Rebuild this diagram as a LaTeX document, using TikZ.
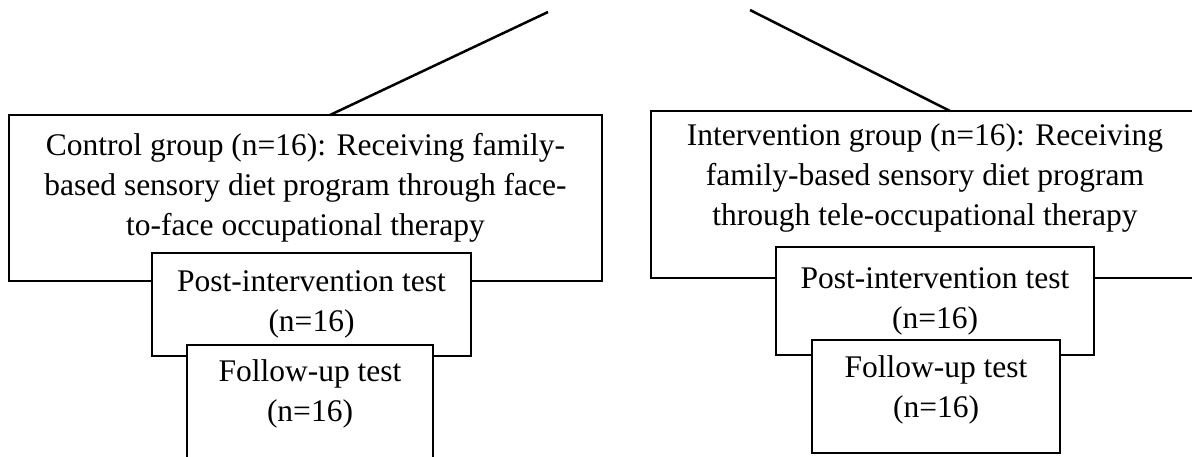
\documentclass[tikz,border=0pt]{standalone}
\usepackage{fontspec}
\setmainfont{Liberation Serif}
\usepackage{tikz}
\usetikzlibrary{positioning}
\newcommand{\diagfont}{\fontsize{31.5}{40}\selectfont}

\begin{document}
\begin{tikzpicture}[
    x=1pt, y=-1pt,
    box/.style={rectangle, draw, line width=2.5pt, fill=white, inner sep=0pt, align=center, font=\diagfont},
    boxtext/.style={inner sep=0pt, align=center, font=\diagfont},
    link/.style={line width=2.5pt}
]
\useasboundingbox (0,0) rectangle (1192,456);

% Group boxes
\node[box, minimum width=593pt, minimum height=166pt] (ctrl) at (305.5,198) {};
\node[boxtext, below=19pt of ctrl.north] (ctrltext) {Control group (n=16): Receiving family-\\based sensory diet program through face-\\to-face occupational therapy};
\node[box, minimum width=548pt, minimum height=167pt] (intv) at (925,194.5) {};
\node[boxtext, below=14pt of intv.north] (intvtext) {Intervention group (n=16): Receiving\\family-based sensory diet program\\through tele-occupational therapy};

% Lines from above
\coordinate (topL) at (548,12);
\coordinate (topR) at (750,10);
\draw[link] (topL) -- ([xshift=24.5pt, yshift=-1.25pt]ctrl.north);
\draw[link] (topR) -- ([xshift=25pt, yshift=-1.25pt]intv.north);

% Post-intervention tests
\node[box, minimum width=319pt, minimum height=103pt] (ctrlpost) at (311.5,304.5) {Post-intervention test\\(n=16)};
\node[box, minimum width=318pt, minimum height=108pt] (intvpost) at (935,301) {Post-intervention test\\(n=16)};

% Follow-up tests
\node[box, minimum width=246pt, minimum height=125pt] (ctrlfollow) at (310,407.5) {};
\node[boxtext, below=16pt of ctrlfollow.north] (ctrlfollowtext) {Follow-up test\\(n=16)};
\node[box, minimum width=248pt, minimum height=113pt] (intvfollow) at (936,396.5) {};
\node[boxtext, below=17pt of intvfollow.north] (intvfollowtext) {Follow-up test\\(n=16)};

\end{tikzpicture}
\end{document}
